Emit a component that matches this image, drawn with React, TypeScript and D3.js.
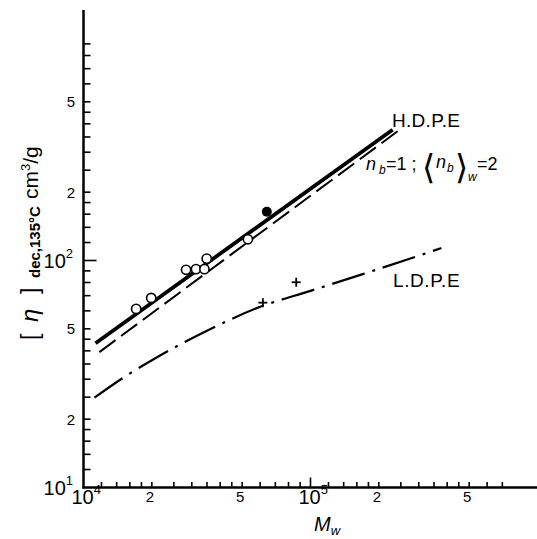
import React from "react";
import * as d3 from "d3";

// ---- data ----
const hdpeOpenM = [1.706e4, 1.987e4, 2.83e4, 3.13e4, 3.41e4, 3.49e4, 5.3e4];
const hdpeOpenEta = [61.2, 68.4, 91.0, 91.6, 91.6, 101.9, 124];
const hdpeFilledM = [6.42e4];
const hdpeFilledEta = [164];
const ldpeCrossM = [6.17e4, 8.65e4];
const ldpeCrossEta = [65.2, 80.2];

const hdpeLineM = [1.13e4, 2.3e5];
const hdpeLineEta = [43.2, 377];
const branchLineM = [1.175e4, 2.42e5];
const branchLineEta = [39.5, 371];
const ldpeLineM = [1.118e4, 1.5e4, 2.1e4, 3.5e4, 5.8e4, 1.0e5, 1.7e5, 2.65e5, 3.77e5];
const ldpeLineEta = [24.9, 30.5, 37.4, 49.0, 61.7, 73.5, 87.1, 100.7, 113.5];

const tickMults = [1, 1.2, 1.4, 1.6, 1.8, 2, 2.5, 3, 3.5, 4, 4.5, 5, 6, 7, 8, 9];
const xDecades = [1e4, 1e5];
const yDecades = [10, 100];
const xMaxTick = 7e5;

const xLabelValues = [1e4, 2e4, 5e4, 1e5, 2e5, 5e5];
const xLabelTexts = ["10", "2", "5", "10", "2", "5"];
const xLabelExps = ["4", "", "", "5", "", ""];
const yLabelValues = [10, 20, 50, 100, 200, 500];
const yLabelTexts = ["10", "2", "5", "10", "2", "5"];
const yLabelExps = ["1", "", "", "2", "", ""];

const FONT = "'Liberation Sans', Arial, sans-serif";

export default function App() {
  const W = 537;
  const H = 539;
  const x = d3.scaleLog().domain([1e4, 1e6]).range([83.5, 537.5]);
  const y = d3.scaleLog().domain([10, 1000]).range([487.5, 33.5]);

  const xTicks: { v: number; major: boolean }[] = [];
  xDecades.forEach((d) =>
    tickMults.forEach((m) => {
      const v = d * m;
      if (v > 1e4 && v <= xMaxTick) xTicks.push({ v, major: m === 1 });
    })
  );
  const yTicks: { v: number; major: boolean }[] = [];
  yDecades.forEach((d) =>
    tickMults.forEach((m) => {
      const v = d * m;
      if (v > 10) yTicks.push({ v, major: m === 1 });
    })
  );

  const line = d3
    .line<[number, number]>()
    .x((d) => x(d[0]))
    .y((d) => y(d[1]));
  const curve = d3
    .line<[number, number]>()
    .x((d) => x(d[0]))
    .y((d) => y(d[1]))
    .curve(d3.curveMonotoneX);

  const zip = (a: number[], b: number[]) => a.map((v, i) => [v, b[i]] as [number, number]);

  const x0 = x(1e4);
  const y0 = y(10);

  return (
    <svg
      width={W}
      height={H}
      style={{ position: "absolute", left: 0, top: 0, background: "#fff" }}
      fontFamily={FONT}
    >
      <rect width={W} height={H} fill="#fff" />
      {/* axes */}
      <line x1={x0} y1={y0 + 1} x2={x0} y2={10} stroke="#000" strokeWidth={2.5} />
      <line x1={x0 - 1} y1={y0} x2={537} y2={y0} stroke="#000" strokeWidth={2.5} />
      {yTicks.map((t, i) => (
        <line
          key={"yt" + i}
          x1={x0}
          x2={x0 + (t.major ? 13 : 7)}
          y1={y(t.v)}
          y2={y(t.v)}
          stroke="#000"
          strokeWidth={1.6}
        />
      ))}
      {xTicks.map((t, i) => (
        <line
          key={"xt" + i}
          x1={x(t.v)}
          x2={x(t.v)}
          y1={y0}
          y2={y0 - (t.major ? 10 : 5.5)}
          stroke="#000"
          strokeWidth={1.6}
        />
      ))}
      {/* y labels */}
      {yLabelValues.map((v, i) =>
        yLabelExps[i] ? (
          <text key={"yl" + i} x={73} y={y(v)} dy="0.36em" textAnchor="end" fontSize={20}>
            {yLabelTexts[i]}
            <tspan fontSize={13} dy="-0.75em">
              {yLabelExps[i]}
            </tspan>
          </text>
        ) : (
          <text key={"yl" + i} x={75} y={y(v)} dy="0.36em" textAnchor="end" fontSize={15}>
            {yLabelTexts[i]}
          </text>
        )
      )}
      {/* x labels */}
      {xLabelValues.map((v, i) =>
        xLabelExps[i] ? (
          <text key={"xl" + i} x={x(v) - 12} y={504} textAnchor="start" fontSize={20}>
            {xLabelTexts[i]}
            <tspan fontSize={13} dy="-0.8em">
              {xLabelExps[i]}
            </tspan>
          </text>
        ) : (
          <text key={"xl" + i} x={x(v) - 2} y={502} textAnchor="middle" fontSize={15}>
            {xLabelTexts[i]}
          </text>
        )
      )}
      {/* axis titles */}
      <text x={314} y={531} fontSize={20} fontStyle="italic">
        M
        <tspan fontSize={13} dy={4}>
          w
        </tspan>
      </text>
      <text transform="translate(38,340) rotate(-90)" fontSize={21}>
        <tspan x={0} fontSize={23}>[</tspan>
        <tspan x={18} fontStyle="italic" fontSize={24}>
          η
        </tspan>
        <tspan x={46} fontSize={23}>]</tspan>
        <tspan x={62} dy={2} fontSize={15} fontWeight="bold">
          dec,135°C
        </tspan>
        <tspan x={141} dy={-2}>
          cm
        </tspan>
        <tspan fontSize={13} dy={-8}>
          3
        </tspan>
        <tspan dy={8}>/g</tspan>
      </text>

      {/* lines */}
      <path d={line(zip(hdpeLineM, hdpeLineEta)) || ""} fill="none" stroke="#000" strokeWidth={3.8} />
      <path
        d={line(zip(branchLineM, branchLineEta)) || ""}
        fill="none"
        stroke="#000"
        strokeWidth={2}
        strokeDasharray="20 7"
      />
      <path
        d={curve(zip(ldpeLineM, ldpeLineEta)) || ""}
        fill="none"
        stroke="#000"
        strokeWidth={2.2}
        strokeDasharray="34 8 3 8"
      />

      {/* points */}
      {hdpeOpenM.map((m, i) => (
        <circle key={"oc" + i} cx={x(m)} cy={y(hdpeOpenEta[i])} r={4.6} fill="#fff" stroke="#000" strokeWidth={1.6} />
      ))}
      {hdpeFilledM.map((m, i) => (
        <circle key={"fc" + i} cx={x(m)} cy={y(hdpeFilledEta[i])} r={5} fill="#000" />
      ))}
      {ldpeCrossM.map((m, i) => {
        const cx = x(m);
        const cy = y(ldpeCrossEta[i]);
        return (
          <g key={"cr" + i} stroke="#000" strokeWidth={1.8}>
            <line x1={cx - 4.5} x2={cx + 4.5} y1={cy} y2={cy} />
            <line x1={cx} x2={cx} y1={cy - 4.5} y2={cy + 4.5} />
          </g>
        );
      })}

      {/* annotations */}
      <text x={392} y={127} fontSize={19} letterSpacing={0.3}>
        H.D.P.E
      </text>
      <text x={393} y={287} fontSize={19} letterSpacing={0.6}>
        L.D.P.E
      </text>
      <text fontSize={18}>
        <tspan x={366} y={170} fontStyle="italic">
          n
        </tspan>
        <tspan x={379} y={174} fontSize={12} fontStyle="italic">
          b
        </tspan>
        <tspan x={386} y={170}>
          =1 ;
        </tspan>
        <tspan x={422} y={179} fontSize={34} fontFamily="'DejaVu Sans', sans-serif">
          ⟨
        </tspan>
        <tspan x={436} y={168} fontStyle="italic">
          n
        </tspan>
        <tspan x={447} y={172} fontSize={12} fontStyle="italic">
          b
        </tspan>
        <tspan x={455} y={179} fontSize={34} fontFamily="'DejaVu Sans', sans-serif">
          ⟩
        </tspan>
        <tspan x={468} y={181} fontSize={12} fontStyle="italic">
          w
        </tspan>
        <tspan x={477} y={170}>
          =2
        </tspan>
      </text>
    </svg>
  );
}
